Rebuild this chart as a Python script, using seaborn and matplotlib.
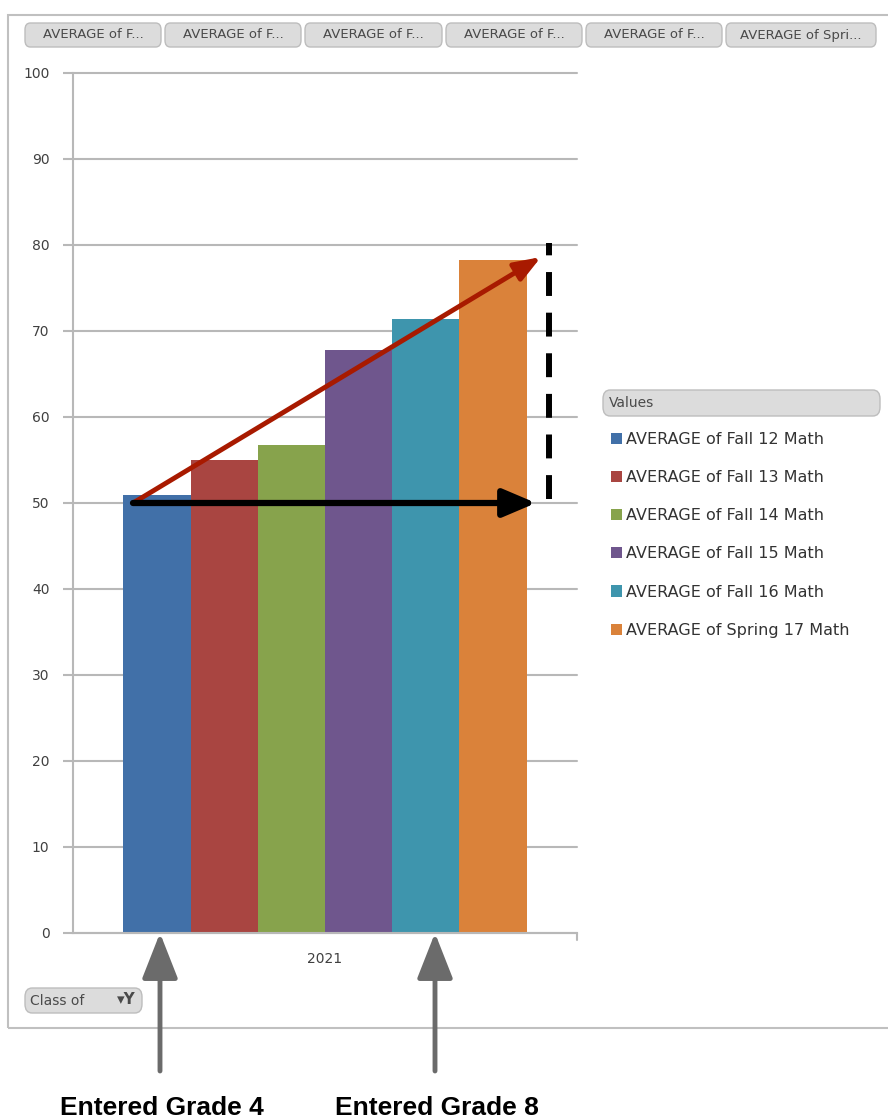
import pandas as pd
import matplotlib.pyplot as plt
import seaborn as sns
from matplotlib.patches import FancyBboxPatch, Rectangle, FancyArrowPatch

# Data
class_of = ["2021"]
series = ["AVERAGE of Fall 12 Math", "AVERAGE of Fall 13 Math", "AVERAGE of Fall 14 Math",
          "AVERAGE of Fall 15 Math", "AVERAGE of Fall 16 Math", "AVERAGE of Spring 17 Math"]
scores = [50.9, 55.0, 56.8, 67.8, 71.4, 78.2]
colors = ["#4170A8", "#A94541", "#87A34C", "#6F568D", "#3E95AD", "#DA823A"]
button_labels = ["AVERAGE of F...", "AVERAGE of F...", "AVERAGE of F...",
                 "AVERAGE of F...", "AVERAGE of F...", "AVERAGE of Spri..."]
yticks = list(range(0, 101, 10))

df = pd.DataFrame({"Class of": class_of * len(series), "Series": series, "Score": scores})

W, H = 888, 1120
def px(x, y):
    return x / W, 1 - y / H

sns.set_style("white")
plt.rcParams['font.family'] = ['DejaVu Sans']
fig = plt.figure(figsize=(8.88, 11.2), dpi=100)

# outer pivot chart frame
fig.patches.append(Rectangle(px(8, 1028), (895 - 8) / W, (1028 - 15) / H, transform=fig.transFigure,
                             fill=False, edgecolor="#c0c0c0", lw=1.5))

ax = fig.add_axes([73 / W, 1 - 933 / H, (577 - 73) / W, (933 - 73) / H])
sns.barplot(data=df, x="Class of", y="Score", hue="Series", palette=colors, saturation=1,
            width=0.8, ax=ax, edgecolor="none", linewidth=0)
ax.set_xlim(-0.5, 0.5)
ax.set_ylim(0, 100)
ax.set_yticks(yticks)
ax.yaxis.grid(True, color="#b8b8b8", lw=1.5, clip_on=False)
ax.set_axisbelow(True)
for s in ["top", "right"]:
    ax.spines[s].set_visible(False)
for s in ["left", "bottom"]:
    ax.spines[s].set_color("#b8b8b8")
    ax.spines[s].set_linewidth(1.5)
ax.tick_params(axis="y", length=7, width=1.5, color="#b8b8b8", labelsize=10, labelcolor="#404040", pad=10, left=True)
ax.tick_params(axis="x", length=0, labelsize=10, labelcolor="#404040", pad=14)
ax.set_xlabel("")
ax.set_ylabel("")
ax.plot([0.5, 0.5], [0, -0.8], color="#b8b8b8", lw=1.5, clip_on=False)

handles, labels = ax.get_legend_handles_labels()
ax.get_legend().remove()

# annotation arrows on the chart
def dx(p):
    return -0.5 + (p - 73) / 504

ax.annotate("", xy=(dx(541), 78.6), xytext=(dx(133), 50),
            arrowprops=dict(arrowstyle="-|>,head_length=1.6,head_width=0.6", color="#A81A00", lw=3.5,
                            shrinkA=0, shrinkB=0))
ax.annotate("", xy=(dx(536), 50), xytext=(dx(133), 50),
            arrowprops=dict(arrowstyle="-|>,head_length=2.0,head_width=0.85", color="black", lw=4.5,
                            shrinkA=0, shrinkB=0))
ax.plot([dx(549), dx(549)], [50.5, 80.2], color="black", lw=4.3, ls=(0, (4, 2.8)), clip_on=False)

# top filter buttons
bx = [23, 163, 303, 444, 584, 724]
bw = [140, 140, 141, 140, 140, 154]
for x0, w, lab in zip(bx, bw, button_labels):
    fig.patches.append(FancyBboxPatch(px(x0 + 2, 47), (w - 4) / W, 24 / H, transform=fig.transFigure,
                                      boxstyle="round,pad=0,rounding_size=0.006",
                                      facecolor="#dcdcdc", edgecolor="#bdbdbd", lw=1))
    fig.text(*px(x0 + w / 2, 35), lab, ha="center", va="center", fontsize=9.5, color="#4a4a4a")

# "Class of" filter button
fig.patches.append(FancyBboxPatch(px(25, 1013), 117 / W, 25 / H, transform=fig.transFigure,
                                  boxstyle="round,pad=0,rounding_size=0.008",
                                  facecolor="#dcdcdc", edgecolor="#bdbdbd", lw=1))
fig.text(*px(30, 1001), "Class of", ha="left", va="center", fontsize=10, color="#4a4a4a")
fig.text(*px(126, 1000), "▾Y", ha="center", va="center", fontsize=11, color="#4a4a4a", fontweight="bold")

# legend
fig.patches.append(FancyBboxPatch(px(603, 416), 277 / W, 26 / H, transform=fig.transFigure,
                                  boxstyle="round,pad=0,rounding_size=0.008",
                                  facecolor="#dcdcdc", edgecolor="#bdbdbd", lw=1))
fig.text(*px(609, 403), "Values", ha="left", va="center", fontsize=10, color="#4a4a4a")
fig.legend(handles, labels, loc="upper left", bbox_to_anchor=px(603, 424), frameon=False,
           fontsize=11.5, labelspacing=1.45, handlelength=0.7, handleheight=0.7, handletextpad=0.25,
           borderpad=0, labelcolor="#333333")

# grade arrows below the chart
for xa, txt in [(160, "Entered Grade 4"), (435, "Entered Grade 8")]:
    fig.patches.append(FancyArrowPatch(px(xa, 1071), px(xa, 933), transform=fig.transFigure,
                                       arrowstyle="-|>,head_length=28,head_width=11",
                                       color="#6b6b6b", lw=3.5, shrinkA=0, shrinkB=0))
    fig.text(*px(xa + 2, 1108), txt, ha="center", va="center", fontsize=19, fontweight="bold",
             family=["Liberation Sans", "DejaVu Sans"], color="black")

fig.savefig("out.png", dpi=100)
